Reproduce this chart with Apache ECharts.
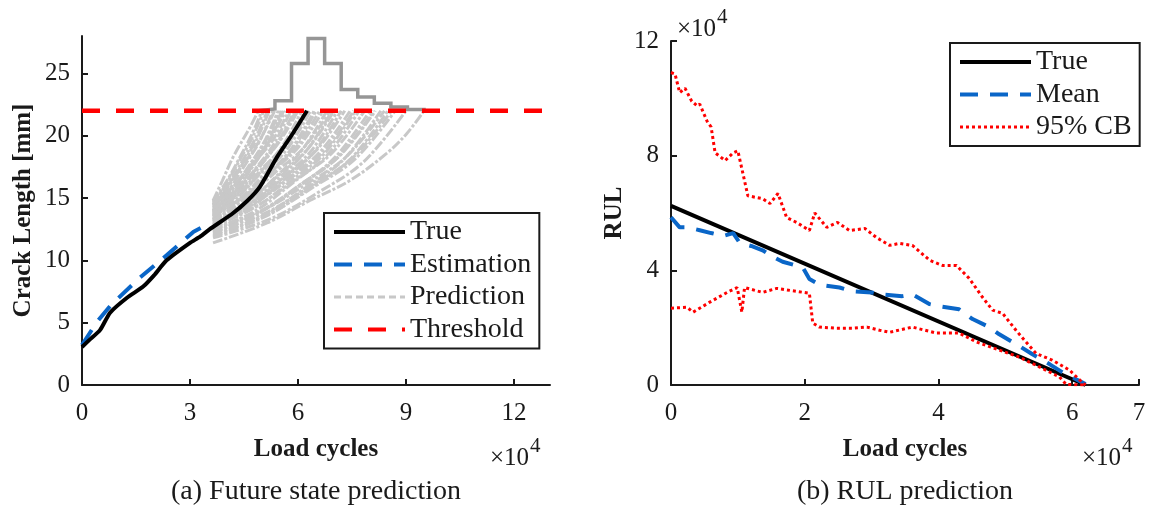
<!DOCTYPE html>
<html>
<head>
<meta charset="utf-8">
<script src="https://cdn.jsdelivr.net/npm/echarts@6/dist/echarts.min.js"></script>
<style>
html, body { margin: 0; padding: 0; background: #fff; }
#chart { width: 1153px; height: 510px; }
</style>
</head>
<body>
<div id="chart"></div>
<script>
// ---------- (a) Future state prediction : crack length vs load cycles (x10^4) ----------
const crackTrue = [
  [0, 3.05], [0.2, 3.6], [0.5, 4.4], [0.78, 5.8], [1.25, 7.0], [1.7, 7.9], [2.0, 8.8],
  [2.35, 10.0], [3.0, 11.4], [3.28, 11.9], [3.55, 12.5], [4.2, 13.8], [4.6, 14.8],
  [4.94, 15.9], [5.42, 18.3], [5.86, 20.2], [6.25, 22.0]
];
const crackEstimation = [
  [0, 3.2], [0.4, 5.0], [0.8, 6.4], [1.6, 8.6], [2.35, 10.4], [3.1, 12.3], [3.5, 12.9]
];
// sampled future crack paths, each running from the prediction start to the threshold
const crackPredictions = [
  [[3.64, 14.8], [3.9, 16.4], [4.2, 18.3], [4.67, 20.7], [4.9, 22]],
  [[3.64, 14.7], [4.05, 16.5], [4.39, 18.3], [4.7, 20.0], [5.0, 22]],
  [[3.64, 14.5], [4.06, 16.4], [4.42, 18.25], [4.74, 19.9], [5.05, 22]],
  [[3.64, 14.4], [4.09, 16.2], [4.47, 18.05], [4.82, 19.8], [5.15, 22]],
  [[3.64, 14.2], [4.11, 16.1], [4.5, 17.95], [4.86, 19.75], [5.2, 22]],
  [[3.64, 14.0], [4.14, 15.9], [4.55, 17.75], [4.94, 19.6], [5.3, 22]],
  [[3.64, 14.6], [4.15, 16.4], [4.58, 18.1], [4.97, 19.8], [5.35, 22]],
  [[3.64, 13.8], [4.18, 15.7], [4.64, 17.6], [5.05, 19.45], [5.45, 22]],
  [[3.64, 13.9], [4.2, 15.75], [4.66, 17.6], [5.09, 19.5], [5.5, 22]],
  [[3.64, 13.3], [4.21, 15.3], [4.69, 17.3], [5.13, 19.3], [5.55, 22]],
  [[3.64, 13.7], [4.23, 15.6], [4.72, 17.5], [5.17, 19.4], [5.6, 22]],
  [[3.64, 14.3], [4.24, 16.05], [4.75, 17.85], [5.21, 19.6], [5.65, 22]],
  [[3.64, 14.5], [4.27, 16.15], [4.8, 17.9], [5.29, 19.6], [5.75, 22]],
  [[3.64, 13.6], [4.29, 15.45], [4.83, 17.4], [5.32, 19.3], [5.8, 22]],
  [[3.64, 13.5], [4.32, 15.35], [4.88, 17.3], [5.4, 19.3], [5.9, 22]],
  [[3.64, 14.0], [4.33, 15.75], [4.91, 17.6], [5.44, 19.45], [5.95, 22]],
  [[3.64, 14.1], [4.35, 15.85], [4.94, 17.65], [5.48, 19.5], [6.0, 22]],
  [[3.64, 13.4], [4.38, 15.2], [4.99, 17.2], [5.56, 19.15], [6.1, 22]],
  [[3.64, 13.9], [4.41, 15.6], [5.05, 17.5], [5.64, 19.3], [6.2, 22]],
  [[3.64, 13.8], [4.44, 15.5], [5.1, 17.4], [5.71, 19.3], [6.3, 22]],
  [[3.64, 13.3], [4.45, 15.13], [5.13, 17.13], [5.75, 19.13], [6.35, 22]],
  [[3.64, 13.1], [4.48, 14.9], [5.19, 16.95], [5.83, 19.0], [6.45, 22]],
  [[3.64, 13.2], [4.5, 14.96], [5.21, 16.98], [5.87, 19.0], [6.5, 22]],
  [[3.64, 13.5], [4.53, 15.2], [5.27, 17.15], [5.95, 19.1], [6.6, 22]],
  [[3.64, 13.6], [4.56, 15.28], [5.32, 17.21], [6.03, 19.14], [6.7, 22]],
  [[3.64, 12.9], [4.59, 14.65], [5.38, 16.7], [6.1, 18.8], [6.8, 22]],
  [[3.64, 13.7], [4.62, 15.28], [5.43, 17.2], [6.18, 19.1], [6.9, 22]],
  [[3.64, 12.7], [4.63, 14.47], [5.46, 16.6], [6.22, 18.75], [6.95, 22]],
  [[3.64, 13.2], [4.65, 14.85], [5.49, 16.9], [6.26, 18.9], [7.0, 22]],
  [[3.64, 12.8], [4.68, 14.46], [5.54, 16.57], [6.34, 18.69], [7.1, 22]],
  [[3.64, 12.6], [4.71, 14.3], [5.6, 16.45], [6.42, 18.6], [7.2, 22]],
  [[3.64, 13.1], [4.74, 14.7], [5.65, 16.75], [6.5, 18.8], [7.3, 22]],
  [[3.64, 12.9], [4.78, 14.55], [5.74, 16.6], [6.61, 18.7], [7.45, 22]],
  [[3.64, 13.0], [4.81, 14.62], [5.79, 16.6], [6.69, 18.67], [7.55, 22]],
  [[3.64, 12.7], [4.83, 14.28], [5.82, 16.42], [6.73, 18.56], [7.6, 22]],
  [[3.64, 12.4], [4.86, 14.05], [5.87, 16.25], [6.81, 18.45], [7.7, 22]],
  [[3.64, 12.9], [4.9, 14.45], [5.96, 16.54], [6.92, 18.54], [7.85, 22]],
  [[3.64, 12.2], [4.95, 13.85], [6.04, 16.0], [7.04, 18.3], [8.0, 22]],
  [[3.64, 12.3], [4.98, 13.95], [6.09, 16.08], [7.12, 18.31], [8.1, 22]],
  [[3.64, 12.5], [4.99, 14.02], [6.12, 16.2], [7.16, 18.39], [8.15, 22]],
  [[3.64, 12.0], [5.04, 13.6], [6.2, 15.8], [7.27, 18.1], [8.3, 22]],
  [[3.64, 12.6], [5.07, 14.1], [6.26, 16.17], [7.35, 18.33], [8.4, 22]],
  [[3.64, 11.9], [5.1, 13.52], [6.31, 15.74], [7.43, 18.06], [8.5, 22]],
  [[3.64, 12.3], [5.13, 13.85], [6.37, 16.0], [7.51, 18.2], [8.6, 22]],
  [[3.64, 12.1], [5.16, 13.68], [6.42, 15.86], [7.59, 18.14], [8.7, 22]],
  [[3.64, 11.8], [5.25, 13.35], [6.59, 15.5], [7.82, 17.9], [9.0, 22]],
  [[3.64, 11.4], [5.14, 13.0], [6.33, 14.8], [7.44, 16.4], [8.47, 18.6], [9.03, 20.2], [9.5, 22]]
];
// distribution of threshold-crossing cycles, drawn as a step outline above the threshold
const histEdges = [4.9, 5.36, 5.82, 6.28, 6.74, 7.2, 7.66, 8.12, 8.58, 9.04, 9.5];
const histTop = [22.15, 22.8, 25.8, 27.8, 25.8, 23.7, 23.1, 22.6, 22.3, 22.1];
const crackThreshold = 22;
const crackXRange = [0, 13];
const crackYRange = [0, 28];
const crackXTicks = [0, 3, 6, 9, 12];
const crackYTicks = [0, 5, 10, 15, 20, 25];

// ---------- (b) RUL prediction : RUL (x10^4) vs load cycles (x10^4) ----------
const rulTrue = [[0, 6.25], [6.2, 0]];
const rulMean = [
  [0, 5.85], [0.13, 5.5], [0.24, 5.5], [0.43, 5.4], [0.6, 5.3], [0.78, 5.2], [0.93, 5.3],
  [1.03, 4.95], [1.2, 4.85], [1.37, 4.7], [1.52, 4.48], [1.67, 4.3], [1.97, 4.1], [2.07, 3.7],
  [2.22, 3.5], [2.52, 3.4], [2.72, 3.27], [3.0, 3.23], [3.12, 3.16], [3.46, 3.1], [3.61, 3.16],
  [3.87, 2.82], [4.01, 2.75], [4.31, 2.64], [4.51, 2.3], [4.76, 2.02], [4.91, 1.77],
  [5.21, 1.36], [5.4, 1.08], [5.66, 0.73], [5.85, 0.45], [6.2, 0.03]
];
const rulUpper = [
  [0, 10.9], [0.06, 10.85], [0.13, 10.2], [0.21, 10.35], [0.31, 9.9], [0.39, 9.74], [0.43, 9.8],
  [0.54, 9.2], [0.6, 9.0], [0.66, 8.1], [0.81, 7.83], [0.93, 8.1], [1.0, 8.17], [1.15, 6.6],
  [1.37, 6.5], [1.48, 6.33], [1.6, 6.68], [1.73, 5.84], [1.88, 5.67], [2.07, 5.39], [2.15, 6.0],
  [2.33, 5.5], [2.49, 5.67], [2.67, 5.39], [2.9, 5.46], [3.07, 5.15], [3.27, 4.87], [3.42, 4.94],
  [3.61, 4.87], [3.87, 4.35], [4.06, 4.17], [4.27, 4.17], [4.46, 3.72], [4.66, 3.06], [4.81, 2.61],
  [4.96, 2.5], [5.16, 1.91], [5.31, 1.5], [5.46, 1.1], [5.7, 0.87], [5.96, 0.52], [6.16, 0.07],
  [6.2, 0]
];
const rulLower = [
  [0, 2.68], [0.24, 2.71], [0.33, 2.54], [0.58, 2.89], [0.84, 3.23], [0.99, 3.4], [1.06, 2.54],
  [1.1, 3.4], [1.37, 3.23], [1.58, 3.37], [1.78, 3.3], [2.07, 3.2], [2.12, 2.16], [2.22, 2.02],
  [2.48, 1.98], [2.72, 1.98], [2.93, 2.02], [3.12, 1.91], [3.27, 1.84], [3.61, 2.02], [3.97, 1.81],
  [4.31, 1.81], [4.57, 1.5], [4.91, 1.22], [5.21, 0.97], [5.51, 0.63], [5.81, 0.28], [5.91, 0.02],
  [6.2, 0]
];
const rulXRange = [0, 7];
const rulYRange = [0, 12];
const rulXTicks = [0, 2, 4, 6, 7];
const rulYTicks = [0, 4, 8, 12];

// ---------- styling ----------
const FONT = 'Liberation Serif';
const INK = '#1a1a1a';
const BLUE = '#0a66c8';
const RED = '#ff0000';
const PRED_GRAY = '#c8c8c8';
const HIST_GRAY = '#969696';

function valueAxis(gridIndex, range, ticks, name, nameGap, labelMargin) {
  return {
    type: 'value',
    gridIndex: gridIndex,
    min: range[0],
    max: range[1],
    name: name,
    nameLocation: 'middle',
    nameGap: nameGap,
    nameTextStyle: { fontFamily: FONT, fontSize: 25, fontWeight: 'bold', color: INK },
    axisLine: { show: true, onZero: false, lineStyle: { color: INK, width: 2 } },
    axisTick: { show: true, inside: true, length: 6, customValues: ticks, lineStyle: { color: INK, width: 2 } },
    axisLabel: { customValues: ticks, fontFamily: FONT, fontSize: 25, color: INK, margin: labelMargin },
    splitLine: { show: false }
  };
}

function lineSeries(name, data, axis, style, extra) {
  return Object.assign({
    type: 'line',
    name: name,
    data: data,
    xAxisIndex: axis,
    yAxisIndex: axis,
    symbol: 'none',
    silent: true,
    lineStyle: style,
    itemStyle: { color: style.color }
  }, extra || {});
}

// step outline of the crossing histogram, built from its bin edges and heights
const histOutline = [[histEdges[0], crackThreshold]];
histTop.forEach(function (h, i) {
  histOutline.push([histEdges[i], h]);
  histOutline.push([histEdges[i + 1], h]);
});
histOutline.push([histEdges[histEdges.length - 1], crackThreshold]);

const predStyle = { color: PRED_GRAY, width: 3, type: [10, 2, 3, 2] };
const series = [];
crackPredictions.forEach(function (curve) {
  series.push(lineSeries('Prediction', curve, 0, predStyle, { smooth: 0.35 }));
});
series.push(lineSeries('Estimation', crackEstimation, 0, { color: BLUE, width: 4, type: [18, 12] }));
series.push(lineSeries('True', crackTrue, 0, { color: '#000', width: 4 }, { smooth: 0.2 }));
series.push(lineSeries('hist', histOutline, 0, { color: HIST_GRAY, width: 3.5, join: 'miter' }));
series.push(lineSeries('Threshold', crackXRange.map(function (x) { return [x, crackThreshold]; }), 0,
  { color: RED, width: 4.5, type: [18, 16] }));

series.push(lineSeries('True', rulTrue, 1, { color: '#000', width: 4 }));
series.push(lineSeries('Mean', rulMean, 1, { color: BLUE, width: 4, type: [18, 12] }));
series.push(lineSeries('95% CB', rulUpper, 1, { color: RED, width: 3, type: [3, 3] }));
series.push(lineSeries('95% CB', rulLower, 1, { color: RED, width: 3, type: [3, 3] }));

const legendText = { fontFamily: FONT, fontSize: 28, color: INK, lineHeight: 30 };
function legendBox(left, top, items) {
  return {
    orient: 'vertical',
    left: left,
    top: top,
    itemWidth: 71,
    itemHeight: 30,
    itemGap: 2.5,
    padding: [4, 8, 4, 8],
    borderColor: INK,
    borderWidth: 2,
    backgroundColor: '#fff',
    selectedMode: false,
    itemStyle: { opacity: 0, borderWidth: 0 },
    textStyle: legendText,
    data: items
  };
}

function powerLabel(x, y) {
  return {
    type: 'text',
    left: x,
    top: y,
    style: {
      text: '{m|×10}{s|4}',
      rich: {
        m: { fontFamily: FONT, fontSize: 25, fill: INK, padding: [10, 0, 0, 0], verticalAlign: 'bottom' },
        s: { fontFamily: FONT, fontSize: 21, fill: INK, verticalAlign: 'top', padding: [0, 0, 0, 1] }
      }
    }
  };
}

function caption(cx, cy, text) {
  return {
    type: 'text',
    x: cx,
    y: cy,
    style: { text: text, fontFamily: FONT, fontSize: 28, fill: INK, align: 'center', verticalAlign: 'middle' }
  };
}

const chart = echarts.init(document.getElementById('chart'), null, { renderer: 'canvas' });
chart.setOption({
  animation: false,
  backgroundColor: '#fff',
  grid: [
    { left: 82, top: 36, width: 468, height: 349 },
    { left: 671, top: 41, width: 468, height: 344 }
  ],
  xAxis: [
    valueAxis(0, crackXRange, crackXTicks, 'Load cycles', 52, 16),
    valueAxis(1, rulXRange, rulXTicks, 'Load cycles', 52, 16)
  ],
  yAxis: [
    valueAxis(0, crackYRange, crackYTicks, 'Crack Length [mm]', 46, 12),
    valueAxis(1, rulYRange, rulYTicks, 'RUL', 44, 12)
  ],
  legend: [
    legendBox(324, 213, [
      { name: 'True', lineStyle: { width: 4 } },
      { name: 'Estimation', lineStyle: { width: 4 } },
      { name: 'Prediction', lineStyle: { width: 3, type: [7, 4] } },
      { name: 'Threshold', lineStyle: { width: 4 } }
    ]),
    legendBox(950, 43, [
      { name: 'True', lineStyle: { width: 4 } },
      { name: 'Mean', lineStyle: { width: 4 } },
      { name: '95% CB', lineStyle: { width: 3 } }
    ])
  ],
  graphic: [
    powerLabel(490, 436),
    powerLabel(1082, 436),
    powerLabel(677, 7),
    caption(316, 492, '(a) Future state prediction'),
    caption(905, 492, '(b) RUL prediction')
  ],
  series: series
});
</script>
</body>
</html>
